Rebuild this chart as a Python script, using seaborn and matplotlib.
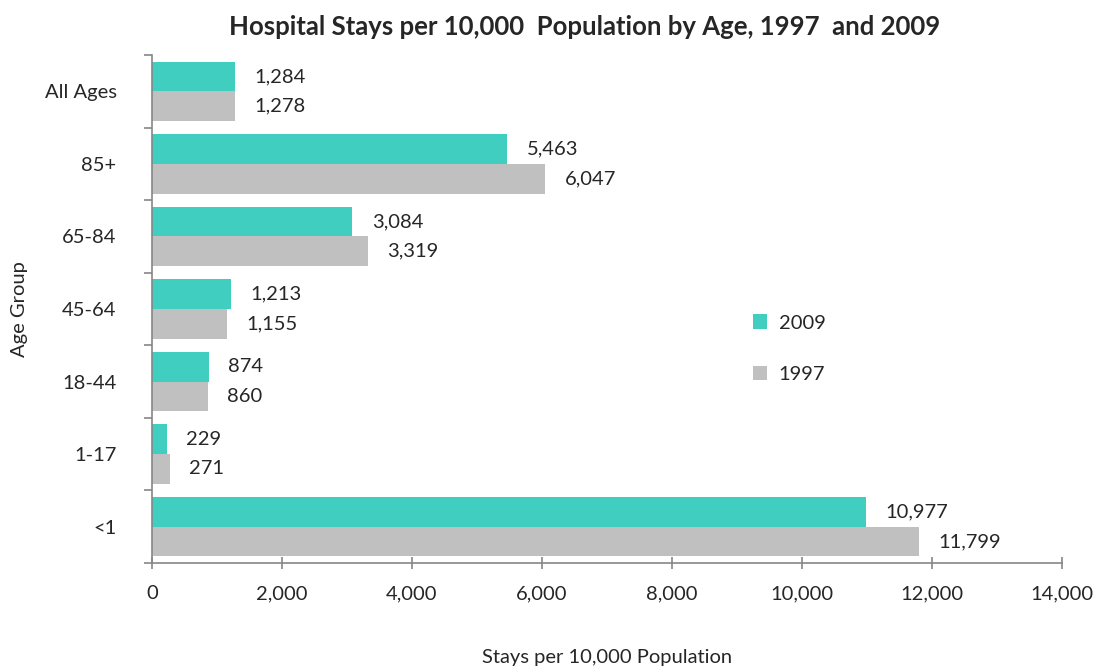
import pandas as pd
import numpy as np
import matplotlib
matplotlib.use('Agg')
import matplotlib.pyplot as plt
import seaborn as sns
from matplotlib.ticker import FuncFormatter, FixedLocator

ages = ['All Ages', '85+', '65-84', '45-64', '18-44', '1-17', '<1']
stays_2009 = [1284, 5463, 3084, 1213, 874, 229, 10977]
stays_1997 = [1278, 6047, 3319, 1155, 860, 271, 11799]
years = ['2009', '1997']
colors = ['#40CEC0', '#C0C0C0']

df = pd.DataFrame({
    'Age Group': ages * 2,
    'Year': ['2009'] * len(ages) + ['1997'] * len(ages),
    'Stays': stays_2009 + stays_1997,
})

sns.set_style('white')
plt.rcParams['font.family'] = ['Lato', 'DejaVu Sans']

fig = plt.figure(figsize=(11.01, 6.67), dpi=100)
ax = fig.add_axes([0.138, 0.156, 0.8266, 0.7615])

sns.barplot(data=df, y='Age Group', x='Stays', hue='Year', order=ages,
            hue_order=years, palette=colors, orient='h', width=0.82,
            saturation=1, ax=ax, errorbar=None, linewidth=0)

for cont in ax.containers:
    ax.bar_label(cont, labels=[f'{v:,.0f}' for v in cont.datavalues],
                 padding=14, fontsize=14.5)

ax.set_xlim(0, 14000)
ax.set_ylim(len(ages) - 0.5, -0.5)
ax.xaxis.set_major_locator(FixedLocator(np.arange(0, 14001, 2000)))
ax.xaxis.set_major_formatter(FuncFormatter(lambda v, p: f'{v:,.0f}'))
ax.set_yticks(range(len(ages)))
ax.set_yticklabels(ages)
ax.set_yticks(np.arange(-0.5, len(ages), 1), minor=True)
ax.tick_params(axis='y', which='major', left=False, labelsize=14.5, pad=22)
ax.tick_params(axis='y', which='minor', left=True, length=6, width=1.2,
               color='#868686', direction='out')
ax.tick_params(axis='x', bottom=True, length=8, width=1.2, color='#868686',
               direction='inout', labelsize=14.5, pad=12)

for s in ['top', 'right']:
    ax.spines[s].set_visible(False)
for s in ['left', 'bottom']:
    ax.spines[s].set_color('#868686')
    ax.spines[s].set_linewidth(1.2)

ax.set_xlabel('Stays per 10,000 Population', fontsize=14.5, labelpad=34)
ax.set_ylabel('Age Group', fontsize=14.5, labelpad=12)
fig.text(0.531, 0.96, 'Hospital Stays per 10,000  Population by Age, 1997  and 2009',
         fontsize=18.5, fontweight='bold', ha='center', va='center')

ax.legend(title=None, frameon=False, loc='upper left', bbox_to_anchor=(0.64, 0.525),
          fontsize=14.5, handlelength=0.7, handleheight=0.7, labelspacing=1.7,
          handletextpad=0.6)

fig.savefig('out.png', dpi=100)
